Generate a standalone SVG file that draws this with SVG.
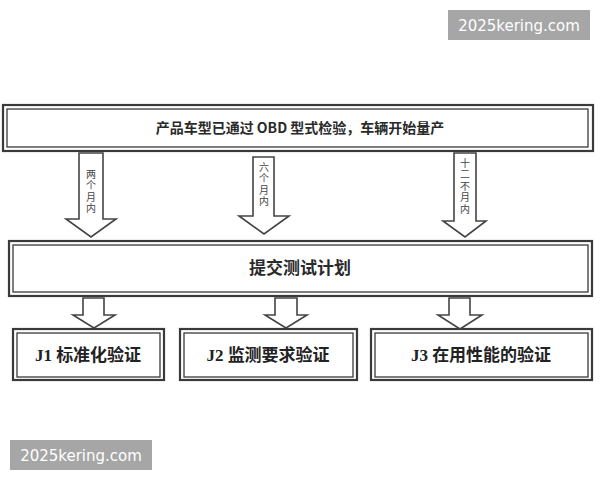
<svg xmlns="http://www.w3.org/2000/svg" width="600" height="480" viewBox="0 0 600 480">
<style>
.o{fill:#fff;stroke:#3a3a3a;stroke-width:2.2}
.i{fill:none;stroke:#3a3a3a;stroke-width:1.3}
.ar{fill:#fff;stroke:#444;stroke-width:1.6;stroke-linejoin:miter}
.t{font-family:"Noto Sans CJK SC",sans-serif;fill:#2a2a2a;text-anchor:middle}
.v{font-family:"Noto Sans CJK SC",sans-serif;fill:#444;font-size:10px;writing-mode:vertical-rl;text-orientation:upright;letter-spacing:1.5px}
.b{font-family:"Liberation Serif","Noto Sans CJK SC",serif;fill:#222;font-weight:bold;font-size:17px;text-anchor:middle}
.wm{font-family:"DejaVu Sans",sans-serif;fill:#fff;font-size:15px;text-anchor:middle}
</style>
<rect width="600" height="480" fill="#fff"/>
<g id="n-top">
<rect class="o" x="3" y="105" width="590" height="46"/>
<rect class="i" x="7" y="109" width="581" height="38"/>
<text class="t" x="300" y="133" font-size="14" font-weight="bold">产品车型已通过 OBD 型式检验，车辆开始量产</text>
</g>
<g id="n-plan">
<rect class="o" x="9" y="241" width="583" height="55"/>
<rect class="i" x="13" y="245" width="575" height="47"/>
<text class="t" x="300" y="274" font-size="17" font-weight="bold">提交测试计划</text>
</g>
<g id="n-j1">
<rect class="o" x="13" y="329" width="151" height="51"/>
<rect class="i" x="17" y="333" width="143" height="44"/>
<text class="b" x="88" y="361">J1 标准化验证</text>
</g>
<g id="n-j2">
<rect class="o" x="180" y="329" width="177" height="51"/>
<rect class="i" x="184" y="333" width="169" height="44"/>
<text class="b" x="268" y="361">J2 监测要求验证</text>
</g>
<g id="n-j3">
<rect class="o" x="371" y="329" width="221" height="51"/>
<rect class="i" x="375" y="333" width="213" height="44"/>
<text class="b" x="481" y="361">J3 在用性能的验证</text>
</g>
<g id="connectors">
<polygon class="ar" points="79,153 103,153 103,219 116,219 91,237 66,219 79,219"/>
<polygon class="ar" points="253,157 274,157 274,216 289,216 264,234 239,216 253,216"/>
<polygon class="ar" points="454,153 476,153 476,221 486,221 465,237 443,221 454,221"/>
<text class="v" x="91" y="169">两个月内</text>
<text class="v" x="264" y="162">六个月内</text>
<text class="v" x="465" y="158">十二不月内</text>
<polygon class="ar" points="83,298 104,298 104,315 115,315 94,328 73,315 83,315"/>
<polygon class="ar" points="275,298 297,298 297,315 307,315 286,328 265,315 275,315"/>
<polygon class="ar" points="449,298 470,298 470,315 482,315 460,329 438,315 449,315"/>
</g>
<g id="watermarks">
<rect x="448" y="10" width="142" height="30" fill="#a6a6a6"/>
<text class="wm" x="519" y="31">2025kering.com</text>
<rect x="10" y="440" width="142" height="30" fill="#a6a6a6"/>
<text class="wm" x="81" y="461">2025kering.com</text>
</g>
</svg>
